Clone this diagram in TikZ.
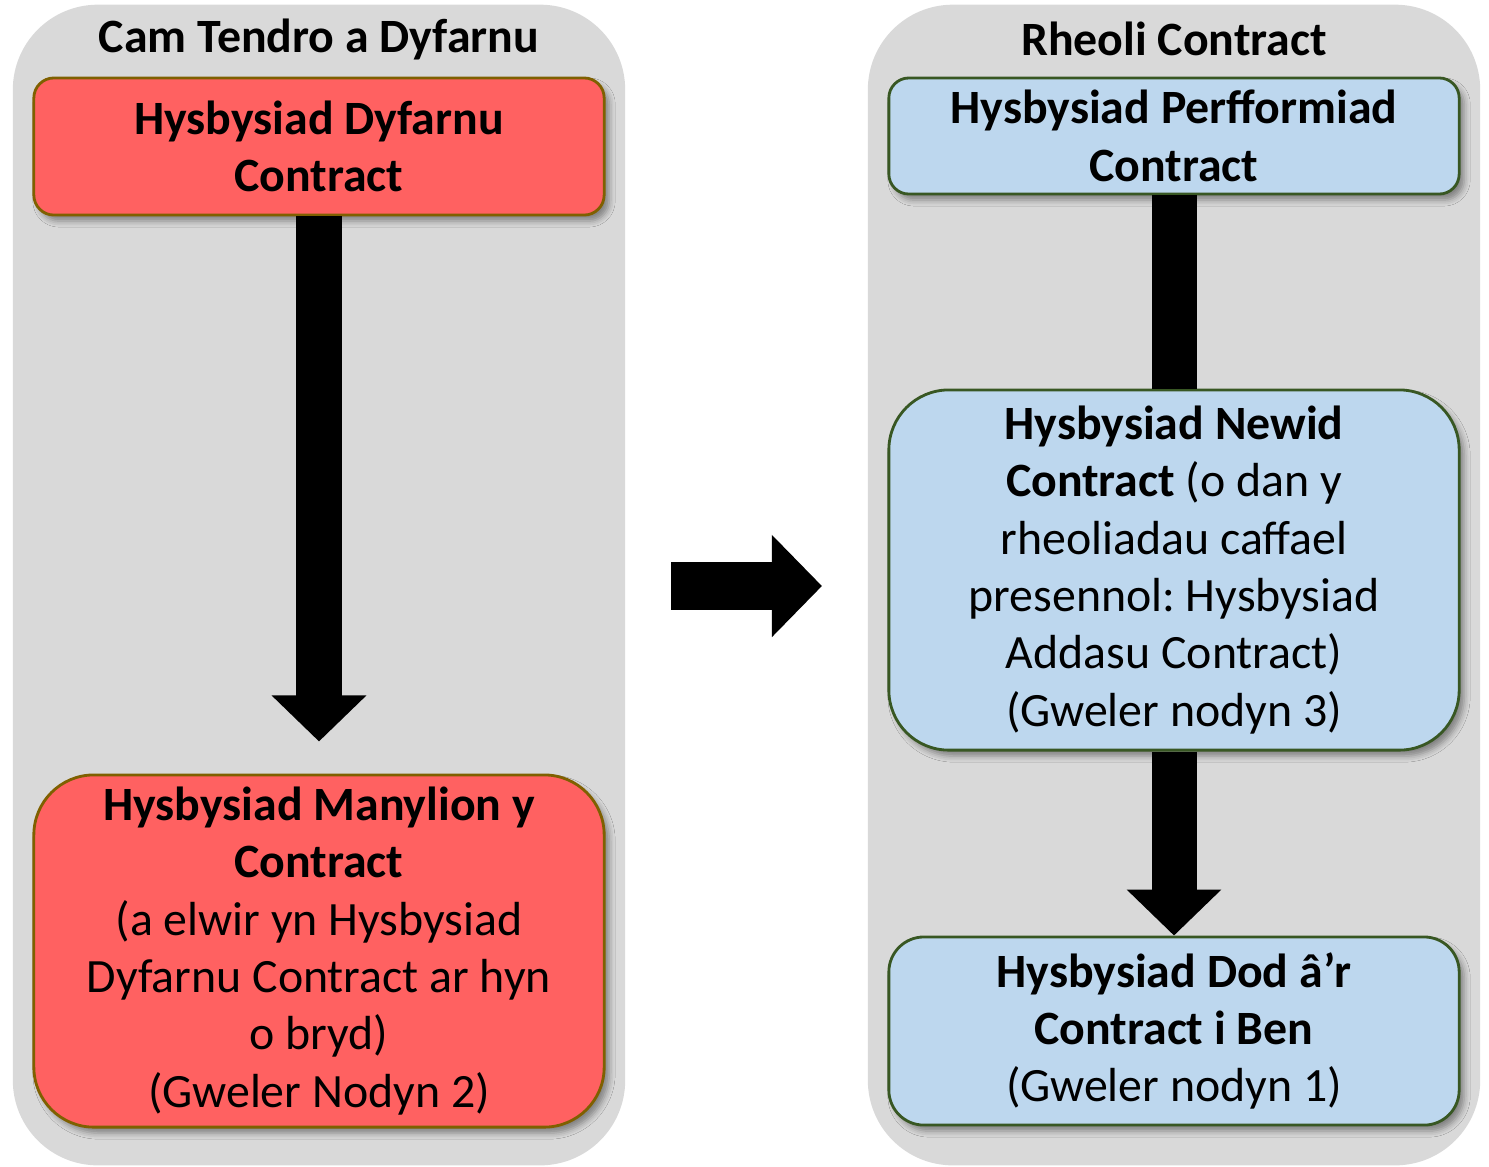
\documentclass[tikz,border=0pt]{standalone}
\usepackage{fontspec}
\setmainfont{Carlito}
\frenchspacing
\usetikzlibrary{arrows.meta,shadows.blur}
\definecolor{panelgrey}{HTML}{D9D9D9}
\definecolor{awardred}{HTML}{FF6161}
\definecolor{awardedge}{HTML}{7F6000}
\definecolor{manageblue}{HTML}{BDD7EE}
\definecolor{manageedge}{HTML}{385723}

\begin{document}
\begin{tikzpicture}[x=0.01cm, y=-0.01cm,
    txt/.style={font=\fontsize{13.6}{16.3}\selectfont, align=center},
    panel/.style={fill=panelgrey, rounded corners=0.85cm, minimum width=6.12cm, minimum height=11.6cm},
    awardbox/.style={txt, draw=awardedge, line width=0.8pt, fill=awardred, minimum width=5.7cm,
        blur shadow={shadow xshift=0.5mm, shadow yshift=-0.6mm, shadow blur radius=0.6mm}},
    managebox/.style={txt, draw=manageedge, line width=0.8pt, fill=manageblue, minimum width=5.7cm,
        blur shadow={shadow xshift=0.5mm, shadow yshift=-0.6mm, shadow blur radius=0.6mm}},
    blockarrow/.style={line width=0.45cm, -{Triangle[length=0.46cm, width=0.92cm]}}]
    \useasboundingbox (0,0) rectangle (1489,1166);

    % Panels
    \node[panel] (tender) at (319,585) {};
    \node[panel] (manage) at (1174,585) {};
    \node[txt, font=\fontsize{13.6}{16.3}\selectfont\bfseries] (tendertitle) at (319,39) {Cam Tendro a Dyfarnu};
    \node[txt, font=\fontsize{13.6}{16.3}\selectfont\bfseries] (managetitle) at (1174,39) {Rheoli Contract};

    % Tender and award
    \node[awardbox, rounded corners=0.2cm, minimum height=1.37cm] (award) at (319,146.5)
        {\textbf{Hysbysiad Dyfarnu}\\ \textbf{Contract}};
    \node[awardbox, rounded corners=0.6cm, minimum height=3.52cm] (details) at (319,951)
        {\textbf{Hysbysiad Manylion y}\\ \textbf{Contract}\\ (a elwir yn Hysbysiad\\
         Dyfarnu Contract ar hyn\\ o bryd)\\ (Gweler Nodyn 2)};
    \draw[blockarrow, shorten >=0.32cm] (award) -- (details);

    % Contract management
    \node[managebox, rounded corners=0.2cm, minimum height=1.16cm] (performance) at (1174,136)
        {\textbf{Hysbysiad Perfformiad}\\ \textbf{Contract}};
    \node[managebox, rounded corners=0.6cm, minimum height=3.6cm] (change) at (1174,570)
        {\textbf{Hysbysiad Newid}\\ \textbf{Contract} (o dan y\\ rheoliadau caffael\\
         presennol: Hysbysiad\\ Addasu Contract)\\ (Gweler nodyn 3)};
    \node[managebox, rounded corners=0.35cm, minimum height=1.88cm] (ending) at (1174,1031)
        {\textbf{Hysbysiad Dod â’r}\\ \textbf{Contract i Ben}\\ (Gweler nodyn 1)};
    \draw[line width=0.45cm] (performance) -- (change);
    \draw[blockarrow] (change) -- (ending);

    % Between the stages
    \coordinate (stepfrom) at (671,586);
    \coordinate (stepto) at (822,586);
    \draw[line width=0.48cm, -{Triangle[length=0.5cm, width=0.99cm]}] (stepfrom) -- (stepto);
\end{tikzpicture}
\end{document}
